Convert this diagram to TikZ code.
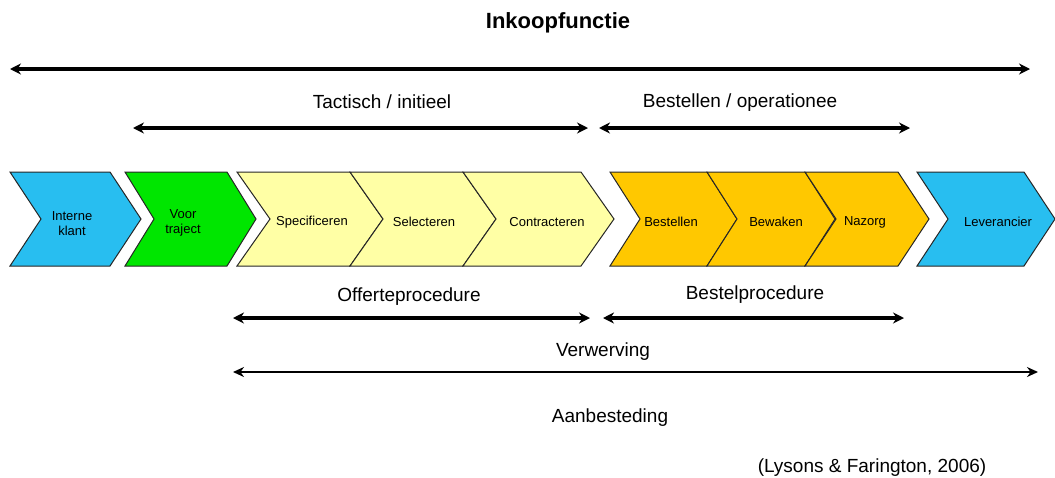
\documentclass[tikz,border=0pt]{standalone}
\usepackage{fontspec}
\setmainfont{Liberation Sans}
\usetikzlibrary{arrows.meta}
\definecolor{cblue}{RGB}{40,190,240}
\definecolor{cgreen}{RGB}{0,230,0}
\definecolor{cyellow}{RGB}{255,255,165}
\definecolor{corange}{RGB}{255,200,0}
\newcommand\chevshape[4]{%
  \filldraw[chevstyle,fill=#4] (#1,172) -- (#2,172) -- ({#2+#3},219) -- (#2,266) -- (#1,266) -- ({#1+#3},219) -- cycle;}
\begin{document}
\begin{tikzpicture}[x=1pt,y=-1pt,
  chevstyle/.style={draw=black!85,line width=1pt,line join=miter},
  lbl/.style={font=\fontsize{19}{22}\selectfont,inner sep=0pt},
  ttl/.style={font=\fontsize{22}{24}\selectfont\bfseries,inner sep=0pt},
  clbl/.style={font=\fontsize{13}{15}\selectfont,inner sep=0pt,align=center},
  span/.style={line width=3.6pt,{Stealth[length=11pt,width=11pt]}-{Stealth[length=11pt,width=11pt]}},
  thinspan/.style={line width=2pt,{Stealth[length=11pt,width=10pt]}-{Stealth[length=11pt,width=10pt]}}]
\useasboundingbox (0,0) rectangle (1055,477);
\fill[white] (0,0) rectangle (1055,477);

% chevrons
\chevshape{10}{110}{31}{cblue}
\chevshape{125}{227}{29}{cgreen}
\chevshape{237}{350}{33}{cyellow}
\chevshape{350}{463}{33}{cyellow}
\chevshape{463}{581}{33}{cyellow}
\chevshape{610}{707}{30}{corange}
\chevshape{707}{805}{30}{corange}
\chevshape{805}{898}{31}{corange}
\chevshape{917}{1024}{31}{cblue}

% chevron labels
\node[clbl] (c1) at (72,224) {Interne\\klant};
\node[clbl] (c2) at (183,223) {Voor\\traject};
\node[clbl] (c3) at (312,222) {Specificeren};
\node[clbl] (c4) at (424,222) {Selecteren};
\node[clbl] (c5) at (547,222) {Contracteren};
\node[clbl] (c6) at (671,222) {Bestellen};
\node[clbl] (c7) at (776,222) {Bewaken};
\node[clbl] (c8) at (865,222) {Nazorg};
\node[clbl] (c9) at (998,222) {Leverancier};

% texts
\node[ttl] (title) at (558,23) {Inkoopfunctie};
\node[lbl] (tact) at (382,102) {Tactisch / initieel};
\node[lbl] (bestop) at (740,103) {Bestellen / operationee};
\node[lbl] (off) at (409,297) {Offerteprocedure};
\node[lbl] (bestp) at (755,295) {Bestelprocedure};
\node[lbl] (verw) at (603,352) {Verwerving};
\node[lbl] (aanb) at (610,418) {Aanbesteding};
\node[lbl] (src) at (872,468) {(Lysons \& Farington, 2006)};

% arrow ends
\coordinate (t1) at (10,69);  \coordinate (t2) at (1030,69);
\coordinate (a1) at (133,128); \coordinate (a2) at (588,128);
\coordinate (b1) at (599,128); \coordinate (b2) at (910,128);
\coordinate (o1) at (233,318); \coordinate (o2) at (590,318);
\coordinate (p1) at (603,318); \coordinate (p2) at (904,318);
\coordinate (v1) at (233,372); \coordinate (v2) at (1038,372);

\draw[span] (t1) -- (t2);
\draw[span] (a1) -- (a2);
\draw[span] (b1) -- (b2);
\draw[span] (o1) -- (o2);
\draw[span] (p1) -- (p2);
\draw[thinspan] (v1) -- (v2);
\end{tikzpicture}
\end{document}
